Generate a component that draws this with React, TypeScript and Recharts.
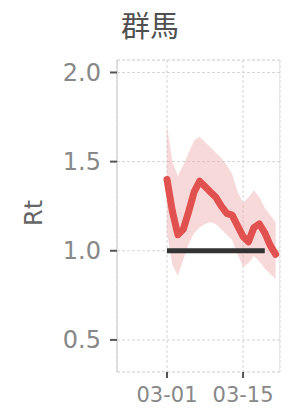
import {
  ComposedChart,
  Area,
  Line,
  XAxis,
  YAxis,
  CartesianGrid,
  ReferenceArea,
} from "recharts";

// Rt estimate for Gunma, daily from 03-01
const dates = [
  "03-01", "03-02", "03-03", "03-04", "03-05", "03-06", "03-07",
  "03-08", "03-09", "03-10", "03-11", "03-12", "03-13", "03-14",
  "03-15", "03-16", "03-17", "03-18", "03-19", "03-20", "03-21",
];
const rt = [
  1.4, 1.22, 1.09, 1.12, 1.22, 1.33, 1.39,
  1.36, 1.33, 1.3, 1.25, 1.21, 1.2, 1.14,
  1.08, 1.05, 1.13, 1.15, 1.1, 1.03, 0.98,
];
const rtLower = [
  1.1, 0.92, 0.86, 0.95, 1.04, 1.1, 1.13,
  1.15, 1.16, 1.15, 1.12, 1.09, 1.06, 0.98,
  0.91, 0.93, 0.97, 0.94, 0.9, 0.87, 0.84,
];
const rtUpper = [
  1.7, 1.5, 1.42, 1.48, 1.55, 1.62, 1.64,
  1.61, 1.58, 1.55, 1.52, 1.48, 1.43, 1.33,
  1.27, 1.3, 1.34, 1.3, 1.24, 1.2, 1.16,
];
// threshold line Rt = 1 (drawn up to 03-19)
const threshold = [
  1, 1, 1, 1, 1, 1, 1, 1, 1, 1, 1, 1, 1, 1, 1, 1, 1, 1, 1,
];

const xTicks = [0, 14];
const xTickLabels = ["03-01", "03-15"];
const yTicks = [0.5, 1.0, 1.5, 2.0];

const data = dates.map((d, i) => ({
  day: i,
  date: d,
  rt: rt[i],
  band: [rtLower[i], rtUpper[i]],
  one: threshold[i],
}));

const font = "'DejaVu Sans', sans-serif";

export default function App() {
  return (
    <div style={{ position: "relative", width: 295, height: 419, background: "#fff", fontFamily: font }}>
      <style>{"body{margin:0}"}</style>
      <div
        style={{
          position: "absolute",
          left: 0,
          width: 300,
          top: 6,
          textAlign: "center",
          fontFamily: "'Noto Sans CJK JP', sans-serif",
          fontSize: 29,
          color: "#505050",
          lineHeight: "36px",
        }}
      >
        群馬
      </div>
      <div
        style={{
          position: "absolute",
          left: 34,
          top: 213,
          transform: "translate(-50%, -50%) rotate(-90deg)",
          fontSize: 24,
          color: "#666",
          whiteSpace: "nowrap",
        }}
      >
        Rt
      </div>
      <ComposedChart
        width={295}
        height={419}
        data={data}
        margin={{ top: 60, right: 15, bottom: 0, left: 0 }}
        style={{ position: "absolute", left: 0, top: 0 }}
      >
        <CartesianGrid stroke="#d4d4d4" strokeDasharray="3 2" />
        <ReferenceArea
          x1={-9.2}
          x2={20.8}
          y1={0.32}
          y2={2.07}
          fill="none"
          stroke="#d4d4d4"
          strokeDasharray="3 2"
          ifOverflow="hidden"
        />
        <XAxis
          dataKey="day"
          type="number"
          domain={[-9.2, 20.8]}
          allowDataOverflow
          ticks={xTicks}
          tickFormatter={(v: number) => xTickLabels[xTicks.indexOf(v)] ?? ""}
          height={47}
          axisLine={false}
          tickLine={{ stroke: "#555", strokeWidth: 2 }}
          tickSize={6}
          tickMargin={9}
          tick={{ fontSize: 21, fill: "#888", fontFamily: font }}
        />
        <YAxis
          type="number"
          domain={[0.32, 2.07]}
          allowDataOverflow
          ticks={yTicks}
          tickFormatter={(v: number) => v.toFixed(1)}
          width={117}
          axisLine={{ stroke: "#cfcfcf" }}
          tickLine={{ stroke: "#555", strokeWidth: 2 }}
          tickSize={7}
          tickMargin={9}
          tick={{ fontSize: 24, fill: "#888", fontFamily: font }}
        />
        <Area
          dataKey="band"
          stroke="none"
          fill="#eea5a5"
          fillOpacity={0.42}
          isAnimationActive={false}
        />
        <Line
          dataKey="one"
          stroke="#333"
          strokeWidth={5}
          dot={false}
          isAnimationActive={false}
        />
        <Line
          dataKey="rt"
          stroke="#e0514f"
          strokeWidth={7}
          strokeLinejoin="round"
          strokeLinecap="round"
          dot={false}
          isAnimationActive={false}
        />
      </ComposedChart>
    </div>
  );
}
